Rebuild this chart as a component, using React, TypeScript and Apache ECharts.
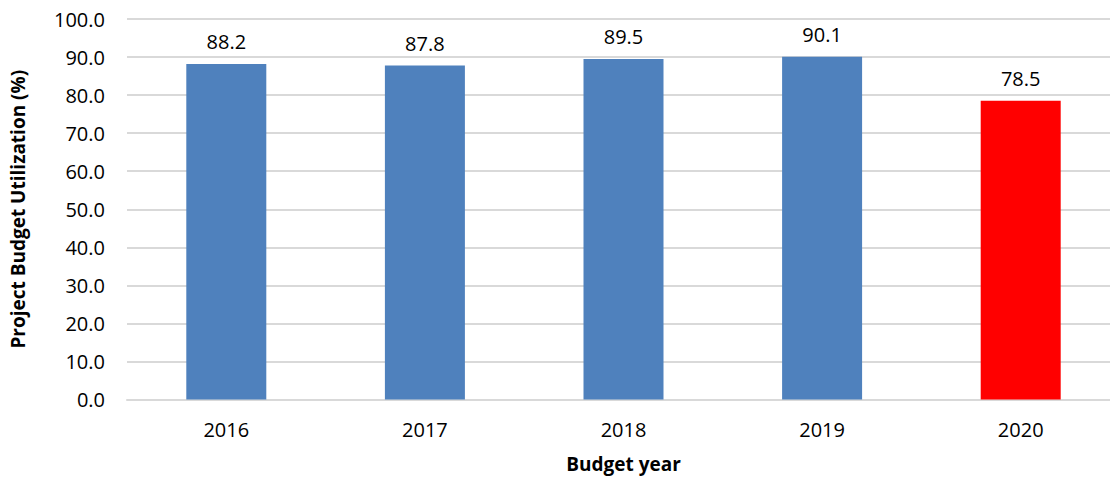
import React, { useEffect, useRef } from "react";
import * as echarts from "echarts";

const categories = ["2016", "2017", "2018", "2019", "2020"];
const values = [88.2, 87.8, 89.5, 90.1, 78.5];
const barColors = ["#4f81bd", "#4f81bd", "#4f81bd", "#4f81bd", "#ff0000"];
const yTicks = { min: 0, max: 100, interval: 10 };

export default function App() {
  const ref = useRef<HTMLDivElement>(null);
  useEffect(() => {
    document.body.style.margin = "0";
    const chart = echarts.init(ref.current!, null, { renderer: "svg" });
    const font = "'Open Sans', sans-serif";
    chart.setOption({
      animation: false,
      backgroundColor: "#ffffff",
      grid: { left: 127, right: 0, top: 19, bottom: 79.5 },
      xAxis: {
        type: "category",
        data: categories,
        axisLine: { show: true, lineStyle: { color: "#d9d9d9", width: 2 } },
        axisTick: { show: false },
        axisLabel: { color: "#000", fontSize: 20, fontFamily: font, margin: 20 },
        name: "Budget year",
        nameLocation: "middle",
        nameGap: 55,
        nameTextStyle: { color: "#000", fontSize: 19, fontWeight: "bold", fontFamily: font },
      },
      yAxis: {
        type: "value",
        min: yTicks.min,
        max: yTicks.max,
        interval: yTicks.interval,
        axisLine: { show: false },
        axisTick: { show: false },
        splitLine: { lineStyle: { color: "#d9d9d9", width: 2 } },
        axisLabel: {
          color: "#000",
          fontSize: 20,
          fontFamily: font,
          margin: 22,
          formatter: (v: number) => v.toFixed(1),
        },
        name: "Project Budget Utilization (%)",
        nameLocation: "middle",
        nameGap: 100,
        nameTextStyle: { color: "#000", fontSize: 19, fontWeight: "bold", fontFamily: font },
      },
      series: [
        {
          type: "bar",
          barWidth: 80,
          data: values.map((v, i) => ({ value: v, itemStyle: { color: barColors[i] } })),
          label: {
            show: true,
            position: "top",
            distance: 12,
            color: "#000",
            fontSize: 20,
            fontFamily: font,
            formatter: (p: any) => Number(p.value).toFixed(1),
          },
        },
      ],
    });
    return () => chart.dispose();
  }, []);
  return (
    <div style={{ width: 1110, height: 479, overflow: "hidden", position: "relative" }}>
      <div ref={ref} style={{ width: 1120, height: 479 }} />
    </div>
  );
}
